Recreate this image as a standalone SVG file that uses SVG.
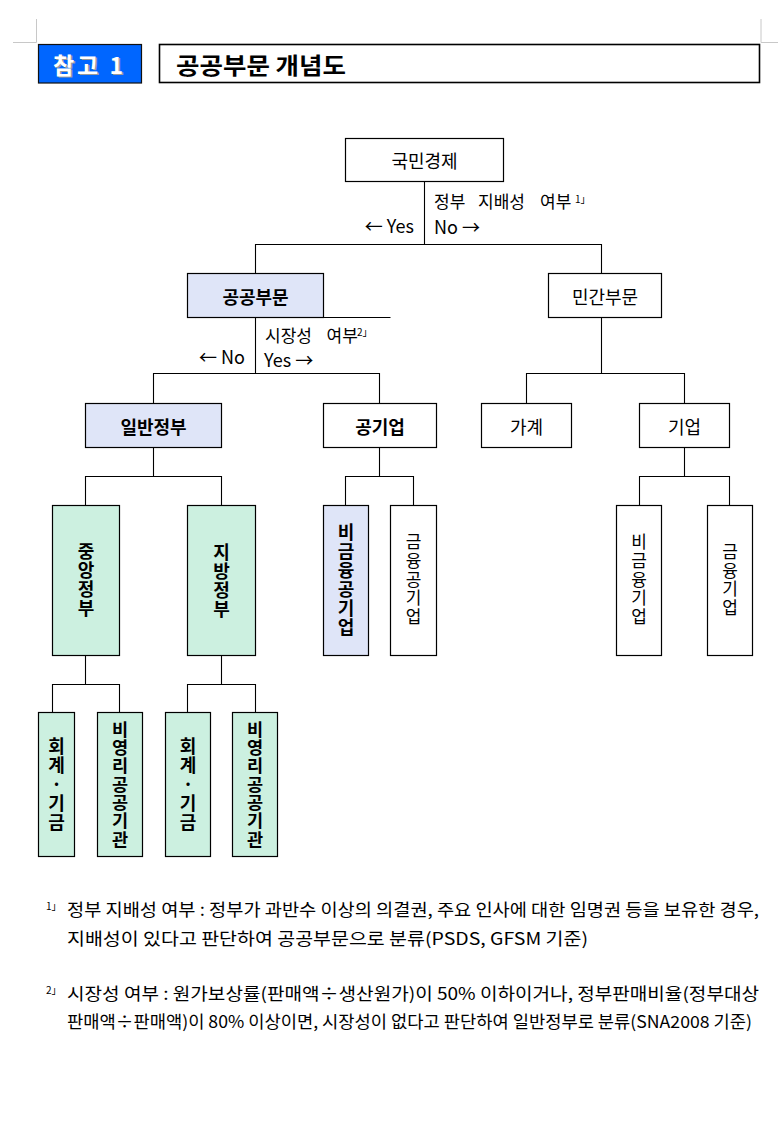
<svg xmlns="http://www.w3.org/2000/svg" width="778" height="1148" viewBox="0 0 778 1148">
<style>
.t{font-family:"Noto Sans CJK KR","Noto Sans",sans-serif;font-size:17px;fill:#000;dominant-baseline:central}
.n{font-size:18px}
.b{font-weight:700}
.c{text-anchor:middle}
.e{text-anchor:end}
.vt{font-family:"Noto Sans CJK KR","Noto Sans",sans-serif;fill:#000;writing-mode:vertical-rl;text-orientation:upright;text-anchor:middle}
.box{stroke:#000;stroke-width:1.2;fill:#fff}
.lav{fill:#dfe5f8}
.mint{fill:#ccf0e0}
.conn{stroke:#000;stroke-width:1.1;fill:none}
.crop{stroke:#c8c8c8;stroke-width:1;fill:none}
.v18{font-size:18px;letter-spacing:1px}
.v17{font-size:17px;letter-spacing:1.7px}
.v175{font-size:17.5px;letter-spacing:0.8px}
.sup{font-size:10px}
</style>
<rect width="778" height="1148" fill="#fff"/>
<g id="cropmarks">
<path class="crop" d="M13 42.5H36.5V19"/>
<path class="crop" d="M761 19V42.5H778"/>
</g>
<g id="header">
<rect x="38.5" y="44.5" width="103" height="38.5" fill="#0066ff" stroke="#111" stroke-width="1.2"/>
<text class="t b" x="54.5" y="65" style="font-size:23px;fill:#9a9a9a" textLength="70" lengthAdjust="spacing">참고 1</text>
<text class="t b" x="53" y="63.5" style="font-size:23px;fill:#fff" textLength="70" lengthAdjust="spacing">참고 1</text>
<rect x="159.5" y="44.5" width="600" height="38" fill="#fff" stroke="#000" stroke-width="1.6"/>
<text class="t b" x="176" y="63.5" style="font-size:23px" textLength="170" lengthAdjust="spacingAndGlyphs">공공부문 개념도</text>
</g>
<g id="connectors">
<path class="conn" d="M424.5 181.5V244.5M255.5 273.5V244.5H601.5V273.5"/>
<path class="conn" d="M323.5 317.5H390.5"/>
<path class="conn" d="M255.5 317.5V373.5M153.5 403.5V373.5H379.5V403.5"/>
<path class="conn" d="M601.5 317.5V373.5M526.5 403.5V373.5H684.5V403.5"/>
<path class="conn" d="M153.5 447.5V476.5M85.5 505.5V476.5H221.5V505.5"/>
<path class="conn" d="M379.5 447.5V476.5M345.5 505.5V476.5H413.5V505.5"/>
<path class="conn" d="M684.5 447.5V476.5M639.5 505.5V476.5H729.5V505.5"/>
<path class="conn" d="M85.5 655.5V684.5M52.5 712.5V684.5H119.5V712.5"/>
<path class="conn" d="M221.5 655.5V684.5M187.5 712.5V684.5H255.5V712.5"/>
</g>
<g id="edge-labels">
<text class="t" y="199.5"><tspan x="434">정부</tspan><tspan x="478">지배성</tspan><tspan x="540">여부</tspan></text>
<text class="t sup" x="575" y="198">1」</text>
<text class="t n" x="434" y="226">No →</text>
<text class="t n e" x="414" y="225">← Yes</text>
<text class="t" y="333.5"><tspan x="265">시장성</tspan><tspan x="326.5">여부</tspan></text>
<text class="t sup" x="357" y="331">2」</text>
<text class="t n" x="264" y="359">Yes →</text>
<text class="t n e" x="245" y="356">← No</text>
</g>
<g id="n-national">
<rect class="box" x="345.5" y="138.5" width="158" height="43"/>
<text class="t n c" x="424.5" y="160">국민경제</text>
</g>
<g id="n-public">
<rect class="box lav" x="187.5" y="273.5" width="136" height="44"/>
<text class="t n b c" x="255.5" y="295.5">공공부문</text>
</g>
<g id="n-private">
<rect class="box" x="548.5" y="273.5" width="113" height="44"/>
<text class="t n c" x="605" y="295.5">민간부문</text>
</g>
<g id="n-general-gov">
<rect class="box lav" x="85.5" y="403.5" width="136" height="44"/>
<text class="t n b c" x="153.5" y="425.5">일반정부</text>
</g>
<g id="n-public-corp">
<rect class="box" x="323.5" y="403.5" width="113" height="44"/>
<text class="t n b c" x="380" y="425.5">공기업</text>
</g>
<g id="n-household">
<rect class="box" x="481.5" y="403.5" width="90" height="44"/>
<text class="t n c" x="526.5" y="425.5">가계</text>
</g>
<g id="n-firm">
<rect class="box" x="639.5" y="403.5" width="90" height="44"/>
<text class="t n c" x="684.5" y="425.5">기업</text>
</g>
<g id="n-central-gov">
<rect class="box mint" x="52.5" y="505.5" width="67" height="150"/>
<text class="vt b v18" x="86" y="580">중앙정부</text>
</g>
<g id="n-local-gov">
<rect class="box mint" x="187.5" y="505.5" width="68" height="150"/>
<text class="vt b v18" x="221.5" y="581">지방정부</text>
</g>
<g id="n-nonfin-public-corp">
<rect class="box lav" x="323.5" y="505.5" width="45" height="150"/>
<text class="vt b v18" x="346" y="580.5">비금융공기업</text>
</g>
<g id="n-fin-public-corp">
<rect class="box" x="390.5" y="505.5" width="46" height="150"/>
<text class="vt v17" x="413.5" y="580">금융공기업</text>
</g>
<g id="n-nonfin-firm">
<rect class="box" x="616.5" y="505.5" width="45" height="150"/>
<text class="vt v17" x="639" y="580">비금융기업</text>
</g>
<g id="n-fin-firm">
<rect class="box" x="707.5" y="505.5" width="45" height="150"/>
<text class="vt v17" x="730" y="580.5">금융기업</text>
</g>
<g id="n-fund-central">
<rect class="box mint" x="38.5" y="712.5" width="36" height="144"/>
<text class="vt b v18" x="56.5" y="785">회계·기금</text>
</g>
<g id="n-nonprofit-central">
<rect class="box mint" x="97.5" y="712.5" width="45" height="144"/>
<text class="vt b v175" x="120" y="784.5">비영리공공기관</text>
</g>
<g id="n-fund-local">
<rect class="box mint" x="165.5" y="712.5" width="45" height="144"/>
<text class="vt b v18" x="188" y="785">회계·기금</text>
</g>
<g id="n-nonprofit-local">
<rect class="box mint" x="232.5" y="712.5" width="45" height="144"/>
<text class="vt b v175" x="255" y="784.5">비영리공공기관</text>
</g>
<g id="footnotes">
<text class="t sup" x="46" y="905">1」</text>
<text class="t" x="67" y="908" style="font-size:17px" textLength="692" lengthAdjust="spacingAndGlyphs">정부 지배성 여부 : 정부가 과반수 이상의 의결권, 주요 인사에 대한 임명권 등을 보유한 경우,</text>
<text class="t" x="67" y="937" style="font-size:17px" textLength="521" lengthAdjust="spacingAndGlyphs">지배성이  있다고  판단하여  공공부문으로  분류(PSDS,  GFSM  기준)</text>
<text class="t sup" x="46" y="989">2」</text>
<text class="t" x="67" y="992" style="font-size:17px" textLength="692" lengthAdjust="spacingAndGlyphs">시장성  여부  :  원가보상률(판매액÷생산원가)이  50%  이하이거나,  정부판매비율(정부대상</text>
<text class="t" x="67" y="1020" style="font-size:17px" textLength="685" lengthAdjust="spacingAndGlyphs">판매액÷판매액)이 80% 이상이면, 시장성이 없다고 판단하여 일반정부로 분류(SNA2008 기준)</text>
</g>
</svg>
